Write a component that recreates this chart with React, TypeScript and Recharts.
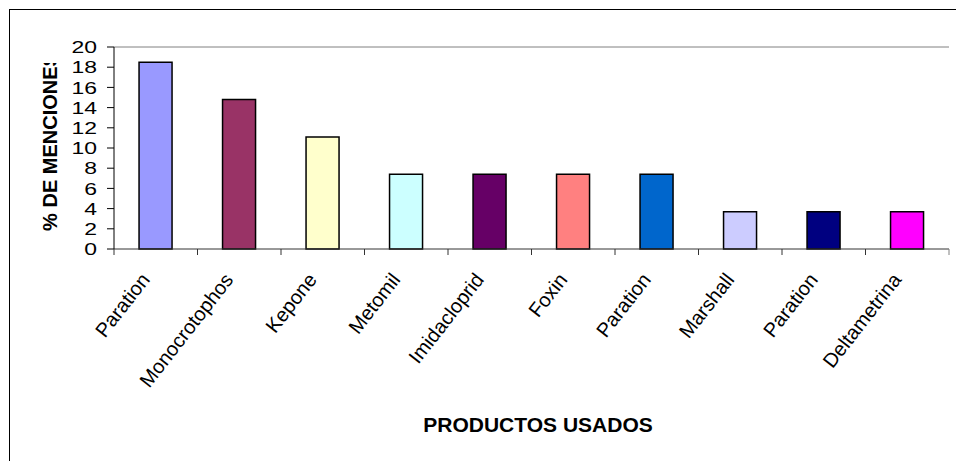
import React from 'react';
import { BarChart, Bar, XAxis, YAxis, Cell, ReferenceLine } from 'recharts';

const categories = [
  'Paration',
  'Monocrotophos',
  'Kepone',
  'Metomil',
  'Imidacloprid',
  'Foxin',
  'Paration',
  'Marshall',
  'Paration',
  'Deltametrina',
];
const values = [18.5, 14.8, 11.1, 7.4, 7.4, 7.4, 7.4, 3.7, 3.7, 3.7];
const barColors = [
  '#9999FF',
  '#993366',
  '#FFFFCC',
  '#CCFFFF',
  '#660066',
  '#FF8080',
  '#0066CC',
  '#CCCCFF',
  '#000080',
  '#FF00FF',
];
const yTicks = [0, 2, 4, 6, 8, 10, 12, 14, 16, 18, 20];

const data = categories.map((name, i) => ({ name, value: values[i] }));

const W = 956;
const H = 461;
const PLOT_LEFT = 114;
const PLOT_RIGHT = 949;
const PLOT_TOP = 47;
const AXIS_Y = 249;
const BAND = (PLOT_RIGHT - PLOT_LEFT) / categories.length;
const FONT = '"Liberation Sans", Arial, sans-serif';

const XTick = (props: any) => {
  const { x, payload, index } = props;
  const half = BAND / 2;
  return (
    <g>
      <line x1={x - half} x2={x - half} y1={AXIS_Y} y2={AXIS_Y + 6} stroke="#333" />
      {index === categories.length - 1 && (
        <line x1={x + half} x2={x + half} y1={AXIS_Y} y2={AXIS_Y + 6} stroke="#808080" />
      )}
      <text
        transform={`translate(${x - 5},${AXIS_Y + 31}) rotate(-52)`}
        textAnchor="end"
        fontSize={20}
        fontFamily={FONT}
        fill="#000"
      >
        {payload.value}
      </text>
    </g>
  );
};

const YTick = (props: any) => {
  const { x, y, payload } = props;
  return (
    <text
      transform={`translate(${x},${y}) scale(1.35,1)`}
      textAnchor="end"
      dy="0.36em"
      fontSize={17}
      fontFamily={FONT}
      fill="#000"
    >
      {payload.value}
    </text>
  );
};

const renderYTitle = () => (
  <g>
    <defs>
      <clipPath id="ytitle-clip">
        <rect x={0} y={63} width={110} height={400} />
      </clipPath>
    </defs>
    <g clipPath="url(#ytitle-clip)">
      <text
        x={57}
        y={142}
        transform="rotate(-90, 57, 142)"
        textAnchor="middle"
        fontSize={20}
        fontWeight="bold"
        fontFamily={FONT}
        fill="#000"
      >
        % DE MENCIONES
      </text>
    </g>
  </g>
);

const renderXTitle = () => (
  <text
    x={538}
    y={432}
    textAnchor="middle"
    fontSize={21}
    fontWeight="bold"
    fontFamily={FONT}
    fill="#000"
  >
    PRODUCTOS USADOS
  </text>
);

export default function App() {
  return (
    <div
      style={{
        position: 'absolute',
        top: 0,
        left: 0,
        width: W,
        height: H,
        background: '#fff',
        overflow: 'hidden',
      }}
    >
      <div
        style={{
          position: 'absolute',
          left: 9,
          top: 9,
          width: 1000,
          height: 1000,
          border: '1px solid #000',
        }}
      />
      <div style={{ position: 'absolute', left: 0, top: 0 }}>
        <BarChart
          width={W}
          height={H}
          data={data}
          margin={{ top: PLOT_TOP, right: W - PLOT_RIGHT, left: 0, bottom: 0 }}
          barCategoryGap="30%"
        >
          <XAxis
            dataKey="name"
            height={H - AXIS_Y}
            interval={0}
            tickLine={false}
            axisLine={{ stroke: '#333' }}
            tick={<XTick />}
            label={{ content: renderXTitle }}
          />
          <YAxis
            width={PLOT_LEFT}
            domain={[0, 20]}
            ticks={yTicks}
            interval={0}
            tickSize={7}
            tickMargin={10}
            axisLine={{ stroke: '#000' }}
            tickLine={{ stroke: '#000' }}
            tick={<YTick />}
            label={{ content: renderYTitle }}
          />
          <YAxis
            yAxisId="right"
            orientation="right"
            width={0}
            domain={[0, 20]}
            tick={false}
            tickLine={false}
            axisLine={{ stroke: '#808080' }}
          />
          <ReferenceLine y={20} stroke="#808080" />
          <Bar dataKey="value" stroke="#000" strokeWidth={1.5} isAnimationActive={false}>
            {data.map((entry, index) => (
              <Cell key={`cell-${index}`} fill={barColors[index % barColors.length]} />
            ))}
          </Bar>
        </BarChart>
      </div>
    </div>
  );
}
